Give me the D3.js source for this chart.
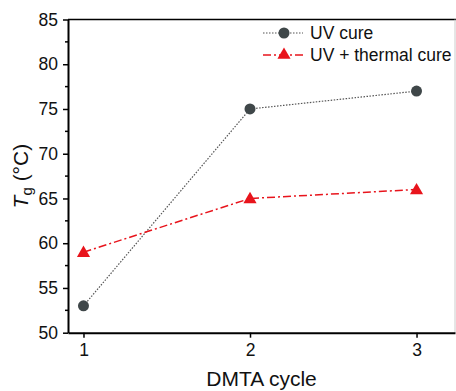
<!DOCTYPE html>
<html>
<head>
<meta charset="utf-8">
<script src="https://cdn.jsdelivr.net/npm/d3@7"></script>
<style>
  html, body { margin: 0; padding: 0; background: #fff; }
  svg { display: block; font-family: "Liberation Sans", Arial, sans-serif; }
</style>
</head>
<body>
<svg id="chart" width="456" height="391"></svg>
<script>
// DMTA cycle vs. glass transition temperature
const cycles = [1, 2, 3];
const uvCure = [53, 75, 77];
const uvThermalCure = [59, 65, 66];
const yTicks = [50, 55, 60, 65, 70, 75, 80, 85];
const xTicks = [1, 2, 3];
const seriesNames = ["UV cure", "UV + thermal cure"];

const svg = d3.select("#chart");
const plotLeft = 68, plotRight = 455, plotTop = 19.5, plotBottom = 332.7;

const x = d3.scaleLinear().domain([0.907, 3.231]).range([plotLeft, plotRight]);
const y = d3.scaleLinear().domain([50, 85]).range([plotBottom, plotTop]);

// frame: top and right
svg.append("line").attr("x1", plotLeft).attr("x2", 456).attr("y1", plotTop).attr("y2", plotTop)
  .attr("stroke", "#000").attr("stroke-width", 1.5);
svg.append("line").attr("x1", plotRight).attr("x2", plotRight).attr("y1", plotTop).attr("y2", plotBottom)
  .attr("stroke", "#ccc").attr("stroke-width", 1);

// minor y ticks
const yMinor = d3.range(52.5, 85, 5);
svg.append("g").selectAll("line").data(yMinor).join("line")
  .attr("x1", plotLeft - 3).attr("x2", plotLeft).attr("y1", d => y(d)).attr("y2", d => y(d))
  .attr("stroke", "#000").attr("stroke-width", 1.5);

// y axis
const yAxis = svg.append("g").attr("transform", `translate(${plotLeft},0)`)
  .call(d3.axisLeft(y).tickValues(yTicks).tickSize(5).tickPadding(5).tickSizeOuter(0));
yAxis.select(".domain").attr("stroke-width", 2);
yAxis.selectAll(".tick line").attr("stroke-width", 1.5);
yAxis.selectAll(".tick text").attr("font-size", 17.5).attr("fill", "#111")
  .attr("font-family", "Liberation Sans, Arial, sans-serif");

// x axis
const xAxis = svg.append("g").attr("transform", `translate(0,${plotBottom})`)
  .call(d3.axisBottom(x).tickValues(xTicks).tickFormat(d3.format("d")).tickSize(5).tickPadding(6).tickSizeOuter(0));
xAxis.select(".domain").attr("stroke-width", 2);
xAxis.selectAll(".tick line").attr("stroke-width", 1.5);
xAxis.selectAll(".tick text").attr("font-size", 17.5).attr("fill", "#111")
  .attr("font-family", "Liberation Sans, Arial, sans-serif");

// axis titles
svg.append("text").attr("x", (plotLeft + plotRight) / 2).attr("y", 386)
  .attr("text-anchor", "middle").attr("font-size", 21).attr("fill", "#111")
  .text("DMTA cycle");

const yt = svg.append("text")
  .attr("transform", `translate(28,${(plotTop + plotBottom) / 2}) rotate(-90)`)
  .attr("text-anchor", "middle").attr("font-size", 21).attr("fill", "#111");
yt.append("tspan").attr("font-style", "italic").text("T");
yt.append("tspan").attr("font-size", 15).attr("dy", 4).text("g");
yt.append("tspan").attr("dy", -4).text(" (°C)");

const grey = "#3f4749", red = "#e8141c";

// lines
const line = d3.line().x((d, i) => x(cycles[i])).y(d => y(d));
svg.append("path").datum(uvCure).attr("d", line).attr("fill", "none")
  .attr("stroke", "#555").attr("stroke-width", 1.2).attr("stroke-dasharray", "1.5,1.5");
svg.append("path").datum(uvThermalCure).attr("d", line).attr("fill", "none")
  .attr("stroke", red).attr("stroke-width", 1.5).attr("stroke-dasharray", "8,3,2,3");

// markers
svg.append("g").selectAll("circle").data(uvCure).join("circle")
  .attr("cx", (d, i) => x(cycles[i])).attr("cy", d => y(d)).attr("r", 5.5).attr("fill", grey);
const tri = d3.symbol().type(d3.symbolTriangle).size(75);
svg.append("g").selectAll("path").data(uvThermalCure).join("path")
  .attr("d", tri).attr("transform", (d, i) => `translate(${x(cycles[i])},${y(d) + 1})`)
  .attr("fill", red);

// legend
const lg = svg.append("g");
const rows = [33, 55];
lg.append("line").attr("x1", 263).attr("x2", 303).attr("y1", rows[0]).attr("y2", rows[0])
  .attr("stroke", "#555").attr("stroke-width", 1.2).attr("stroke-dasharray", "1.5,1.5");
lg.append("circle").attr("cx", 284).attr("cy", rows[0]).attr("r", 5.5).attr("fill", grey);
lg.append("line").attr("x1", 263).attr("x2", 303).attr("y1", rows[1]).attr("y2", rows[1])
  .attr("stroke", red).attr("stroke-width", 1.5).attr("stroke-dasharray", "8,3,2,3");
lg.append("path").attr("d", tri).attr("transform", `translate(284,${rows[1]})`).attr("fill", red);
lg.selectAll("text").data(seriesNames).join("text")
  .attr("x", 310).attr("y", (d, i) => rows[i] + 6)
  .attr("font-size", 17.5).attr("fill", "#111").text(d => d);
</script>
</body>
</html>
